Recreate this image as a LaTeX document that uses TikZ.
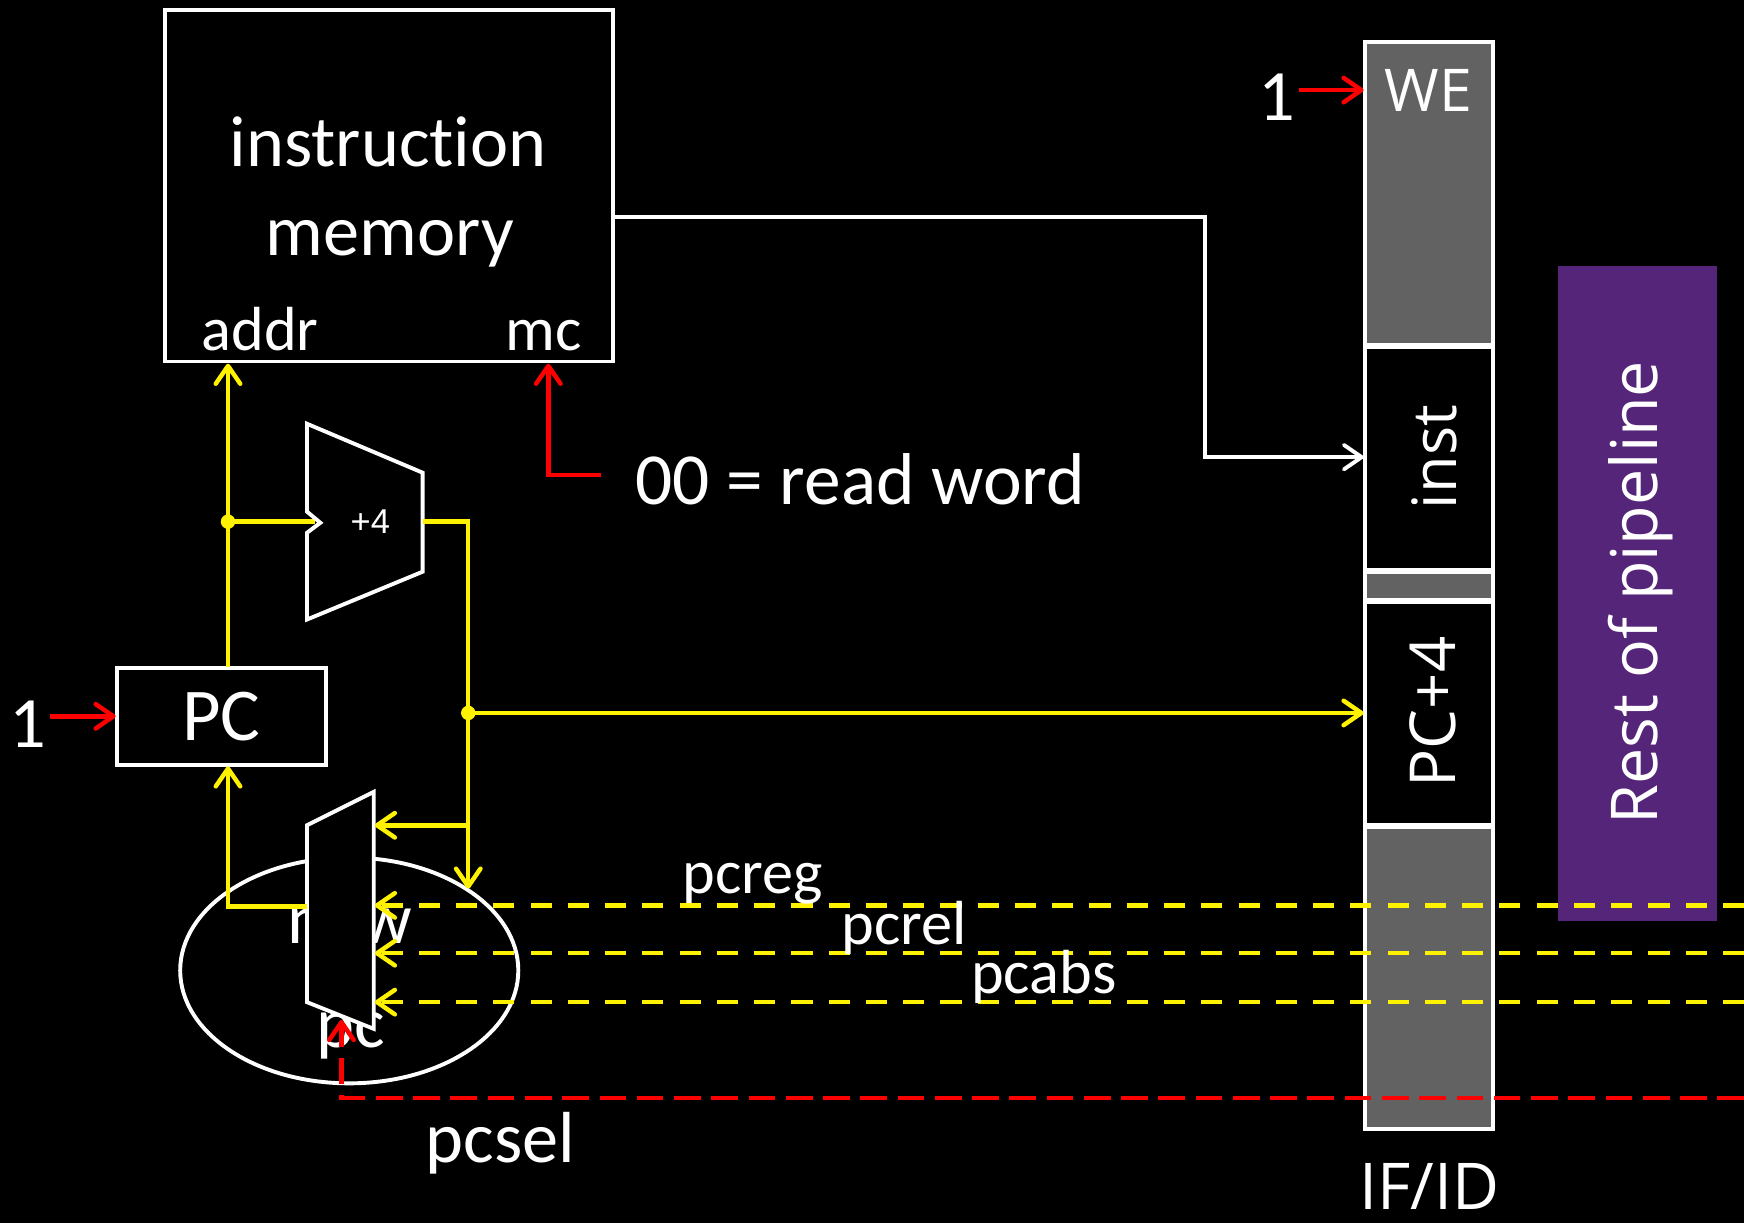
\documentclass[tikz,border=0pt]{standalone}
\usepackage{fontspec}
\setmainfont{Carlito}[Ligatures=NoCommon]
\newfontfamily\segfont{Open Sans}
\newfontfamily\arifont{Liberation Sans}
\usetikzlibrary{arrows.meta,shapes.geometric}
\definecolor{regfill}{RGB}{98,98,98}
\definecolor{purp}{RGB}{84,37,120}
\newcommand\myfs[1]{\fontsize{#1}{#1}\selectfont}
\tikzset{
  box/.style={draw=white, line width=3.5pt},
  txt/.style={text=white, inner sep=0pt},
  ywire/.style={draw=yellow, line width=4pt},
  rwire/.style={draw=red, line width=4pt},
  wwire/.style={draw=white, line width=3.5pt},
  barb/.style={-{Straight Barb[length=16pt,width=22pt,round]}},
  ydash/.style={ywire, dash pattern=on 19pt off 14.5pt},
  rdash/.style={rwire, dash pattern=on 24pt off 9.5pt},
  jdot/.style={circle, fill=yellow, inner sep=0pt, minimum size=13pt},
  regpart/.style={box, inner sep=0pt, minimum width=114.5pt},
}
\begin{document}
\begin{tikzpicture}[x=1pt,y=-1pt]
\fill[black] (0,0) rectangle (1568,1099.6);
\useasboundingbox (0,0) rectangle (1568,1099.6);

% instruction memory
\node[box, fill=black, minimum width=403pt, minimum height=316pt, inner sep=0pt] (mem) at (349.5,167) {};
\node[txt, font=\myfs{65}, anchor=base] (tinstr) at (349,149.5) {instruction};
\node[txt, font=\myfs{65}, anchor=base] (tmemory) at (350.5,229.5) {memory};
\node[txt, font=\myfs{56}, anchor=base west] (taddr) at (181,315) {addr};
\node[txt, font=\myfs{56}, anchor=base east] (tmc) at (523,315) {mc};
\node[txt, font=\myfs{66}, anchor=base] (tread) at (773.5,454) {00 = read word};

% rest of pipeline
\node[fill=purp, minimum width=143pt, minimum height=589pt, inner sep=0pt] (rest) at (1472,533.5) {};
\node[txt, font=\segfont\myfs{58}, rotate=90] (trest) at (1475,533) {Rest of pipeline};

% IF/ID register
\node[regpart, fill=regfill, minimum height=272pt] (s1) at (1284.75,174) {};
\node[regpart, fill=black, minimum height=200pt] (s2) at (1284.75,412) {};
\node[regpart, fill=regfill, minimum height=25pt] (s3) at (1284.75,526.5) {};
\node[regpart, fill=black, minimum height=201pt] (s4) at (1284.75,641.5) {};
\node[regpart, fill=regfill, minimum height=271pt] (s5) at (1284.75,879.5) {};
\node[txt, font=\segfont\myfs{53}, anchor=base] (twe) at (1284,100.5) {WE};
\node[txt, font=\myfs{65}, anchor=base] (tone2) at (1148,108) {1};
\node[txt, font=\segfont\myfs{55}, rotate=90] (tinst) at (1290,411) {inst};
\node[txt, font=\segfont\myfs{57}, rotate=90] (tpc4) at (1288,640) {PC+4};
\node[txt, font=\segfont\myfs{58}, anchor=base] (tifid) at (1285,1087) {IF/ID};

% PC
\node[box, minimum width=188pt, minimum height=87pt, inner sep=0pt, font=\myfs{67}, text=white] (pc) at (199,644) {PC};
\node[txt, font=\myfs{65}, anchor=base] (tone1) at (25,672) {1};

% coordinates
\coordinate (pctop) at (205,600);
\coordinate (pcbot) at (205,689);
\coordinate (pcleft) at (104,644);
\coordinate (one1r) at (45,644);
\coordinate (memaddr) at (205,327);
\coordinate (memmc) at (493,327);
\coordinate (memout) at (551,195);
\coordinate (wbend1) at (1083,195);
\coordinate (wbend2) at (1083,411);
\coordinate (instin) at (1226,411);
\coordinate (pc4in) at (1226,641);
\coordinate (wein) at (1226,81);
\coordinate (one2r) at (1168,81);
\coordinate (readl) at (540,427);
\coordinate (readc) at (493,427);
\coordinate (addin) at (283,469);
\coordinate (addout) at (380,469);
\coordinate (aobend) at (421,469);
\coordinate (npctop) at (421,799);
\coordinate (muxin0) at (337,742);
\coordinate (muxin1) at (337,814);
\coordinate (muxin2) at (337,857);
\coordinate (muxin3) at (337,901);
\coordinate (muxsel) at (307,917);
\coordinate (muxout) at (276,815);
\coordinate (mobend) at (205,815);
\coordinate (e1) at (1568,814);
\coordinate (e2) at (1568,857);
\coordinate (e3) at (1568,901);
\coordinate (e4) at (1568,987);
\coordinate (selbend) at (307,987);
\coordinate (j3) at (421,742);

% wire into adder (drawn under the adder)
\draw[ywire] (205,469) -- (addin);

% adder
\draw[white, line width=3.5pt, fill=black, line join=miter] (276,381) -- (380,425) -- (380,514) -- (276,557) -- (276,479) -- (288,470) -- (276,460) -- cycle;
\node[txt, font=\arifont\myfs{31}] (tp4) at (333,468.6) {+4};

% new pc ellipse
\node[draw=white, line width=3.5pt, ellipse, minimum width=304pt, minimum height=203pt, inner sep=0pt] (npc) at (314,872.5) {};
\node[txt, font=\myfs{65}, anchor=base] (tnew) at (314.5,848) {new};
\node[txt, font=\myfs{65}, anchor=base] (tpcl) at (315,941.5) {pc};

% mux
\draw[white, line width=3.5pt, fill=black, line join=miter] (276,742) -- (336,712) -- (336,925) -- (276,901) -- cycle;

% yellow wires
\draw[ywire, barb] (pctop) -- (memaddr);
\draw[ywire, barb] (addout) -- (aobend) -- (npctop);
\node[jdot] (d2) at (421,641) {};
\draw[ywire, barb] (d2.center) -- (pc4in);
\draw[ywire, barb] (j3) -- (muxin0);
\draw[ywire, barb] (muxout) -- (mobend) -- (pcbot);
\node[jdot] (d1) at (205,469) {};

% white wire
\draw[wwire, barb] (memout) -- (wbend1) -- (wbend2) -- (instin);

% red wires
\draw[rwire, barb] (one1r) -- (pcleft);
\draw[rwire, barb] (one2r) -- (wein);
\draw[rwire, barb] (readl) -- (readc) -- (memmc);

% dashed control lines
\draw[ydash, barb] (e1) -- (muxin1);
\draw[ydash, barb] (e2) -- (muxin2);
\draw[ydash, barb] (e3) -- (muxin3);
\draw[rdash, barb] (e4) -- (selbend) -- (muxsel);

% labels
\node[txt, font=\myfs{56}, anchor=base] (tpcreg) at (676.5,803) {pcreg};
\node[txt, font=\myfs{56}, anchor=base] (tpcrel) at (813,849) {pcrel};
\node[txt, font=\myfs{56}, anchor=base] (tpcabs) at (938.5,893) {pcabs};
\node[txt, font=\myfs{65}, anchor=base] (tpcsel) at (450,1045) {pcsel};
\end{tikzpicture}
\end{document}
